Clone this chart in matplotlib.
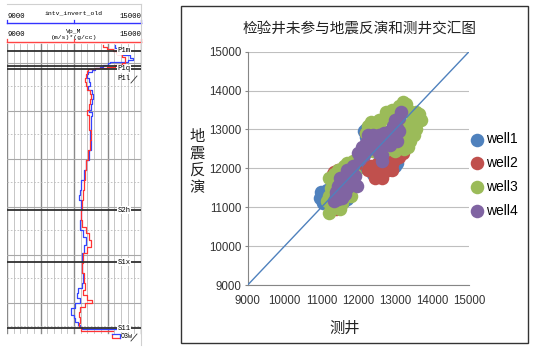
import numpy as np
import matplotlib
matplotlib.use("Agg")
import matplotlib.pyplot as plt
from matplotlib.patches import Rectangle

plt.rcParams["font.family"] = ["Noto Sans CJK SC", "DejaVu Sans"]

# -----------------------------
# Left: well log track (Vp*rho), depth in track rows
# -----------------------------
LOG_MIN, LOG_MAX = 9000, 15000

BLUE_DEPTH = [1, 4, 8, 11, 14, 16, 18, 19, 21, 23, 24, 26, 28, 30, 34, 38, 42, 46, 50,
              55, 60, 66, 68, 72, 86, 96, 106, 116, 126, 136, 146, 151, 156, 166, 176,
              186, 193, 201, 209, 219, 229, 239, 244, 249, 254, 259, 264, 268, 271, 274,
              278, 281, 283, 285, 285]
BLUE_VP = [13836, 13970, 14195, 14508, 14642, 14418, 13612, 13522, 13299, 13164, 12940,
           12806, 12627, 12582, 12672, 12717, 12627, 12806, 12851, 12806, 12761, 12672,
           12806, 12761, 12717, 12761, 12672, 12538, 12448, 12314, 12269, 12224, 12314,
           12314, 12269, 12388, 12538, 12448, 12344, 12344, 12388, 12344, 12194, 12119,
           12269, 12045, 11851, 11881, 12000, 12045, 12194, 12269, 12344, 12344, 13926]

RED_DEPTH = [1, 3, 5, 7, 10, 13, 17, 19, 21, 23, 24, 25, 27, 30, 34, 38, 42, 46, 50, 55,
             60, 66, 71, 86, 96, 106, 116, 126, 136, 146, 156, 166, 176, 183, 189, 196,
             203, 209, 219, 229, 239, 246, 251, 256, 259, 263, 268, 273, 279, 283, 287, 287]
RED_VP = [13299, 13478, 13746, 13926, 14150, 14284, 14284, 14150, 13836, 13478, 12940,
          12627, 12582, 12538, 12493, 12538, 12582, 12717, 12761, 12717, 12672, 12582,
          12672, 12761, 12717, 12627, 12538, 12493, 12448, 12403, 12358, 12314, 12344,
          12538, 12686, 12746, 12597, 12388, 12344, 12448, 12493, 12418, 12597, 12791,
          12493, 12269, 12239, 12269, 12239, 12313, 12313, 13746]

TOP_NAMES = ["P1m", "P1q", "S2h", "S1x", "S11"]
TOP_DEPTH = [7, 25, 166, 218, 284]

# -----------------------------
# Right: crossplot, measured (测井) vs inverted (地震反演)
# -----------------------------
WELLS = ["well1", "well2", "well3", "well4"]
WELL_COLORS = ["#4F81BD", "#C0504D", "#9BBB59", "#8064A2"]

WELL1_LOG = [10950, 11000, 11050, 11100, 11150, 11050, 11600, 11700, 12000, 12100,
             12150, 11950, 12150, 12220, 12300, 12200, 13000, 13050, 12400, 11700,
             12600, 13100, 11500, 12950]
WELL1_SEIS = [11250, 11400, 11200, 11350, 11450, 11100, 11150, 11200, 12000, 12050,
              12150, 12050, 12950, 13000, 12900, 12800, 12050, 12150, 11850, 12000,
              12300, 13100, 11700, 12100]

WELL2_LOG = [11400, 11500, 11350, 11450, 11600, 11300, 12250, 12400, 12500, 12450,
             12600, 12650, 12700, 12800, 12900, 12650, 12500, 12350, 13000, 12900,
             13200, 13250, 12950, 13050, 12500, 12200, 11250, 11900, 13100, 12750,
             13000]
WELL2_SEIS = [10950, 11000, 11900, 11950, 12000, 11850, 11950, 11900, 11800, 11750,
              11850, 11750, 12000, 11950, 12100, 12150, 12100, 12050, 12250, 11950,
              12400, 12500, 13450, 13500, 12950, 12900, 11200, 12050, 12300, 12300,
              13350]

WELL3_LOG = [12200, 12250, 12350, 12400, 12450, 12550, 12600, 12700, 12750, 12850,
             12900, 13000, 13100, 13200, 13300, 13350, 13450, 13550, 13650, 13700,
             13600, 13550, 13500, 13400, 13350, 13250, 13150, 13200, 13300, 13400,
             13450, 13000, 12900, 12800, 12700, 12600, 12500, 12350, 12300, 12200,
             12400, 13100, 12950,
             11200, 11250, 11150, 11300, 11200, 11250, 11300, 11200, 11350, 11450,
             11500, 11550, 11450, 11400, 11500, 11650, 11700, 11750, 11800, 11700,
             11850, 11900, 11600, 11350, 11550, 11800]
WELL3_SEIS = [12900, 13100, 13200, 12950, 13150, 13250, 13050, 13300, 13450, 13350,
              13500, 13450, 13600, 13700, 13650, 13500, 13400, 13450, 13400, 13250,
              13200, 13000, 12850, 12700, 12550, 12500, 12600, 12800, 13000, 13150,
              12950, 12450, 12600, 12500, 12650, 12750, 12850, 12650, 12800, 12500,
              12450, 13150, 13150,
              10850, 11000, 11150, 11150, 11300, 11500, 11700, 11750, 11850, 11950,
              11700, 11400, 11200, 11000, 10950, 11300, 11500, 11750, 11950, 12150,
              12200, 11850, 12050, 11400, 11100, 11300]

WELL4_LOG = [11350, 11450, 11500, 11400, 11450, 11550, 11600, 11700, 11650, 11750,
             11800, 11850, 11900, 11950, 11550, 11700, 11850, 11650, 11400, 11500,
             12000, 12050, 12100, 12200, 12150, 12300, 12350, 12450, 12400, 12550,
             12600, 12700, 12750, 12850, 12900, 13000, 13050, 12950, 13100, 13150,
             13050, 12650, 12550, 12250, 12850, 13000, 12650, 12800, 12500, 13100]
WELL4_SEIS = [11150, 11200, 11350, 11400, 11550, 11500, 11650, 11500, 11800, 11700,
              11900, 11600, 11800, 11550, 11250, 11950, 12050, 11350, 11300, 11750,
              12400, 12250, 12550, 12650, 12350, 12500, 12700, 12650, 12850, 12850,
              12550, 12900, 12750, 12950, 12800, 12900, 13050, 13100, 13300, 13450,
              12700, 12350, 12400, 12850, 12600, 13250, 12200, 12650, 12600, 12950]

AXIS_TICKS = [9000, 10000, 11000, 12000, 13000, 14000, 15000]

W, H = 535, 348


def fig_rect(x0, y0, x1, y1):
    # pixel box (top-left origin) -> figure fraction rect
    return [x0 / W, (H - y1) / H, (x1 - x0) / W, (y1 - y0) / H]


def draw_log(fig):
    ax = fig.add_axes(fig_rect(7, 4, 141, 345))
    ax.set_xlim(LOG_MIN, LOG_MAX)
    ax.set_ylim(301, -40)
    ax.axis("off")
    mono = "Liberation Mono"

    # header
    ax.text(12000, -31, "intv_invert_old", ha="center", va="center", fontsize=4.6, family=mono)
    for row in [-27, -9]:
        ax.text(LOG_MIN, row, "9000", ha="left", va="center", fontsize=5.2, family=mono)
        ax.text(LOG_MAX, row, "15000", ha="right", va="center", fontsize=5.2, family=mono)
    ax.text(12000, -12.5, "Vp_M", ha="center", va="center", fontsize=4.6, family=mono)
    ax.text(12000, -6.5, "(m/s)*(g/cc)", ha="center", va="center", fontsize=4.6, family=mono)
    for row, c in [(-21, "#3333FF"), (-2, "#FF4444")]:
        ax.plot([LOG_MIN, LOG_MAX], [row, row], color=c, lw=1.0, clip_on=False)
        for xv in [LOG_MIN, 12000, LOG_MAX]:
            ax.plot([xv, xv], [row - 3, row], color=c, lw=0.9, clip_on=False)
    ax.plot([LOG_MIN, LOG_MAX], [-40, -40], color="#D0D0D0", lw=0.8, clip_on=False)
    ax.plot([LOG_MAX, LOG_MAX], [-40, 301], color="#D0D0D0", lw=0.8, clip_on=False)

    # track grid
    for v in range(LOG_MIN, LOG_MAX + 1, 300):
        major = (v - LOG_MIN) % 1500 == 0
        ax.plot([v, v], [0, 289], color="#8A8A8A" if major else "#BDBDBD",
                lw=1.0 if major else 0.6, zorder=1)
    for d in range(19, 289, 48):
        ax.plot([LOG_MIN, LOG_MAX], [d, d], color="#A8A8A8", lw=0.8, zorder=1)
        ax.plot([LOG_MIN, LOG_MAX], [d + 23, d + 23], color="#BBBBBB", lw=0.6,
                ls=(0, (2, 2)), zorder=1)

    # curves
    ax.plot(BLUE_VP, BLUE_DEPTH, color="#3344FF", lw=0.9, drawstyle="steps-pre", zorder=3)
    ax.plot(RED_VP, RED_DEPTH, color="#FF3333", lw=0.9, drawstyle="steps-pre", zorder=3)

    # formation tops
    for name, d in zip(TOP_NAMES, TOP_DEPTH):
        ax.plot([LOG_MIN, LOG_MAX], [d, d], color="#303030", lw=1.3, zorder=4)
        ax.text(13950, d, name, ha="left", va="center", fontsize=5.2, family=mono, zorder=5,
                bbox=dict(facecolor="white", edgecolor="none", pad=0.3))
    ax.plot([LOG_MIN, LOG_MAX], [22, 22], color="#303030", lw=1.3, zorder=4)
    ax.text(13950, 34, "P1l", ha="left", va="center", fontsize=5.2, family=mono)
    ax.plot([14550, 14820], [39, 32], color="#303030", lw=0.6)

    # bottom legend box
    ax.plot([13700, 13700, 14050], [290, 294, 294], color="#FF3333", lw=0.9, clip_on=False)
    ax.plot([13700, 14050, 14050], [290, 290, 294], color="#3344FF", lw=0.9, clip_on=False)
    ax.text(14080, 292, "O3w", ha="left", va="center", fontsize=4.8, family=mono)
    ax.plot([14550, 14820], [297, 290], color="#303030", lw=0.6, clip_on=False)


def draw_crossplot(fig):
    fig.patches.append(Rectangle((181 / W, (H - 343) / H), 347 / W, 337 / H,
                                 transform=fig.transFigure, fill=False,
                                 edgecolor="#333333", lw=1.0))

    ax = fig.add_axes(fig_rect(247.7, 51.7, 469, 285))
    xs = [WELL1_LOG, WELL2_LOG, WELL3_LOG, WELL4_LOG]
    ys = [WELL1_SEIS, WELL2_SEIS, WELL3_SEIS, WELL4_SEIS]
    for name, c, x, y in zip(WELLS, WELL_COLORS, xs, ys):
        ax.scatter(x, y, s=95, color=c, linewidths=0, label=name, zorder=3)
    ax.plot(AXIS_TICKS, AXIS_TICKS, color="#4F81BD", lw=1.0, zorder=4)

    ax.set_xlim(9000, 15000)
    ax.set_ylim(9000, 15000)
    ax.set_xticks(AXIS_TICKS)
    ax.set_yticks(AXIS_TICKS)
    ax.yaxis.grid(True, color="#BFBFBF", lw=0.8)
    ax.set_axisbelow(True)
    for side in ["top", "right"]:
        ax.spines[side].set_visible(False)
    for side in ["left", "bottom"]:
        ax.spines[side].set_color("#868686")
        ax.spines[side].set_linewidth(0.8)
    ax.tick_params(axis="x", length=0, pad=7, labelsize=8.3, labelcolor="#333333")
    ax.tick_params(axis="y", length=2.5, pad=2, labelsize=8.3, labelcolor="#333333",
                   color="#868686")
    for lab in ax.get_xticklabels() + ax.get_yticklabels():
        lab.set_family(["Liberation Sans", "DejaVu Sans"])

    fig.text(360 / W, (H - 29) / H, "检验井未参与地震反演和测井交汇图",
             ha="center", va="center", fontsize=10.5, color="#222222")
    fig.text(197 / W, (H - 162) / H, "地\n震\n反\n演", ha="center", va="center",
             fontsize=11, linespacing=1.0, color="#222222")
    fig.text(345 / W, (H - 328) / H, "测井", ha="center", va="center",
             fontsize=11, color="#222222")

    ax.legend(loc="center left", bbox_to_anchor=(471.5 / W, (H - 175) / H),
              bbox_transform=fig.transFigure, frameon=False, scatterpoints=1,
              handlelength=0.8, handletextpad=0.25, labelspacing=0.7,
              borderpad=0, borderaxespad=0, markerscale=1.0,
              prop={"family": ["Liberation Sans"], "size": 10})


def main():
    fig = plt.figure(figsize=(W / 100, H / 100), dpi=100)
    draw_log(fig)
    draw_crossplot(fig)
    fig.savefig("out.png", dpi=100)


if __name__ == "__main__":
    main()
